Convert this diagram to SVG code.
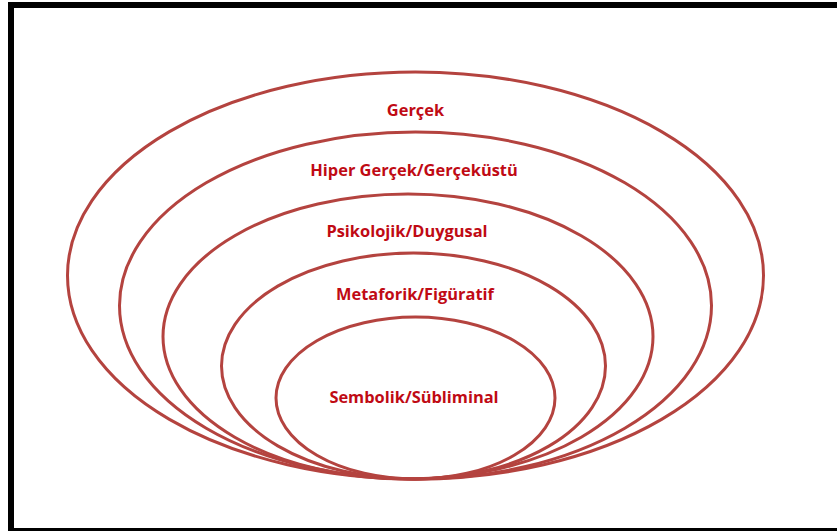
<svg xmlns="http://www.w3.org/2000/svg" width="837" height="531" viewBox="0 0 837 531">
<style>
.ring{fill:none;stroke:#B4433F;stroke-width:3}
.lbl{font-family:"Open Sans","Liberation Sans",sans-serif;font-weight:bold;font-size:16.4px;fill:#C00A14;text-anchor:middle}
</style>
<rect x="0" y="0" width="837" height="531" fill="#ffffff"/>
<rect x="11" y="5" width="900" height="526" fill="none" stroke="#000000" stroke-width="6"/>
<g id="gercek">
<ellipse class="ring" cx="415.5" cy="275.5" rx="348" ry="203.5"/>
<text class="lbl" x="415.5" y="116">Gerçek</text>
</g>
<g id="hiper">
<ellipse class="ring" cx="415.5" cy="305.5" rx="296" ry="173.5"/>
<text class="lbl" x="414" y="176">Hiper Gerçek/Gerçeküstü</text>
</g>
<g id="psikolojik">
<ellipse class="ring" cx="408" cy="336.5" rx="245" ry="142.5"/>
<text class="lbl" x="407" y="237">Psikolojik/Duygusal</text>
</g>
<g id="metaforik">
<ellipse class="ring" cx="413.5" cy="366" rx="192" ry="113"/>
<text class="lbl" x="415" y="300">Metaforik/Figüratif</text>
</g>
<g id="sembolik">
<ellipse class="ring" cx="415.5" cy="398" rx="139.5" ry="81"/>
<text class="lbl" x="414" y="403">Sembolik/Sübliminal</text>
</g>
<g id="connectors"></g>
</svg>
